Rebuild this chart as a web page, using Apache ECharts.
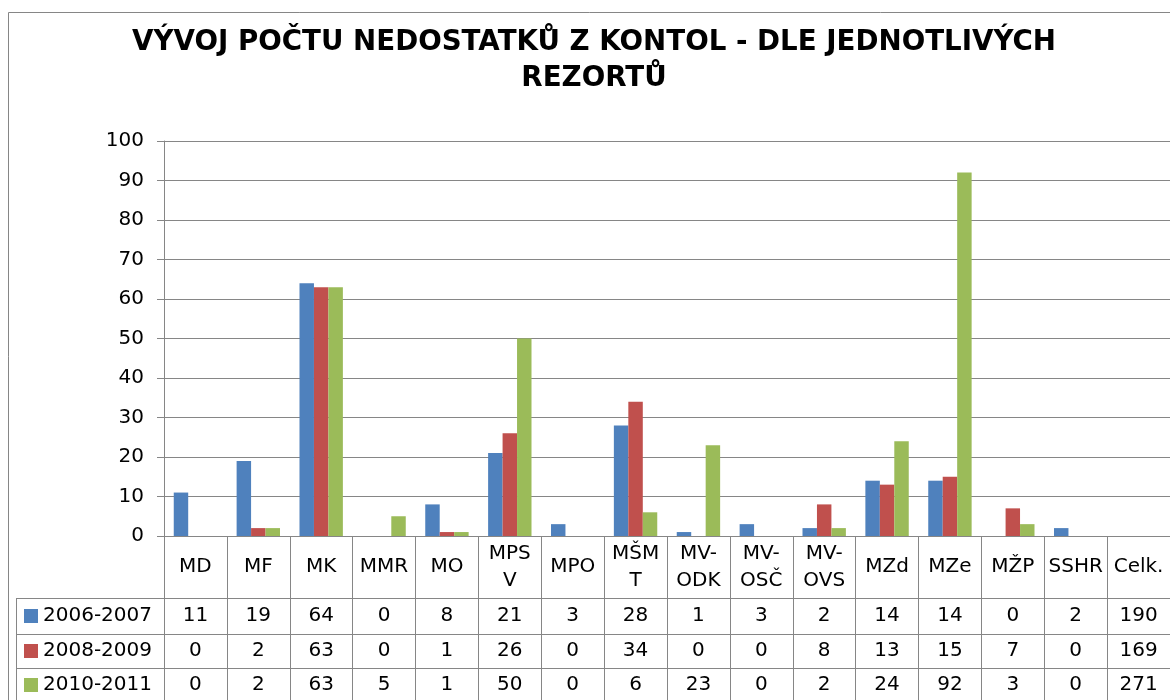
<!DOCTYPE html>
<html><head><meta charset="utf-8">
<script src="https://cdn.jsdelivr.net/npm/echarts@6/dist/echarts.min.js"></script>
<style>html,body{margin:0;padding:0;background:#fff}#c{width:1170px;height:700px}</style>
</head><body><div id="c"></div>
<script>
// ---- data ----
const categories = ['MD','MF','MK','MMR','MO','MPS\nV','MPO','MŠM\nT','MV-\nODK','MV-\nOSČ','MV-\nOVS','MZd','MZe','MŽP','SSHR','Celk.'];
const seriesNames = ['2006-2007','2008-2009','2010-2011'];
const s2006 = [11,19,64,0,8,21,3,28,1,3,2,14,14,0,2];
const s2008 = [0,2,63,0,1,26,0,34,0,0,8,13,15,7,0];
const s2010 = [0,2,63,5,1,50,0,6,23,0,2,24,92,3,0];
const totals = [190,169,271];
const titleText = 'VÝVOJ POČTU NEDOSTATKŮ Z KONTOL - DLE JEDNOTLIVÝCH\nREZORTŮ';
const yMin = 0, yMax = 100, yStep = 10;

// ---- style ----
const FONT = 'DejaVu Sans';
const LINE = '#868686';
const COLORS = ['#4F81BD','#C0504D','#9BBB59'];
const seriesData = [s2006, s2008, s2010];
const rows = seriesData.map((s,i)=>s.concat([totals[i]]));

function tableAxis(offset, tickLen, margin, labels){
  return {
    type:'category', gridIndex:0, position:'bottom', offset:offset, data:categories, boundaryGap:true,
    axisLine:{show:true, lineStyle:{color:LINE, width:1}},
    axisTick:{show:true, interval:0, length:tickLen, lineStyle:{color:LINE, width:1}},
    axisLabel:{interval:0, margin:margin, verticalAlign:'middle', fontSize:20, color:'#000', fontFamily:FONT,
      formatter:function(v,i){return String(labels[i]);}},
    splitLine:{show:false}
  };
}

const chart = echarts.init(document.getElementById('c'), null, {renderer:'canvas'});
const option = {
  animation:false,
  backgroundColor:'#fff',
  title:{text:titleText, left:594, top:25, textAlign:'center', padding:0,
    textStyle:{fontFamily:FONT, fontSize:27.7, fontWeight:'bold', color:'#000', lineHeight:36}},
  grid:{left:164, right:0, top:141, bottom:164, containLabel:false},
  legend: seriesNames.map((n,i)=>({
    data:[n], orient:'horizontal', left:24, top:[606,641,675][i], padding:0,
    icon:'rect', itemWidth:14, itemHeight:14, selectedMode:false,
    textStyle:{fontFamily:FONT, fontSize:20, color:'#000', lineHeight:20}
  })),
  xAxis:[
    {
      type:'category', gridIndex:0, position:'bottom', data:categories, boundaryGap:true,
      axisLine:{show:true, lineStyle:{color:LINE, width:1}},
      axisTick:{show:true, interval:0, length:62, lineStyle:{color:LINE, width:1}},
      axisLabel:{interval:0, margin:31, verticalAlign:'middle', fontSize:20, lineHeight:27, color:'#000', fontFamily:FONT},
      splitLine:{show:false}
    },
    tableAxis(62, 36, 18, rows[0]),
    tableAxis(98, 34, 17, rows[1]),
    tableAxis(132, 40, 17, rows[2])
  ],
  yAxis:{
    type:'value', min:yMin, max:yMax, interval:yStep,
    axisLine:{show:true, lineStyle:{color:LINE, width:1}},
    axisTick:{show:true, length:7, lineStyle:{color:LINE}},
    axisLabel:{margin:20, fontSize:20, color:'#000', fontFamily:FONT},
    splitLine:{show:true, lineStyle:{color:LINE, width:1}}
  },
  series: seriesNames.map((n,i)=>({
    name:n, type:'bar', xAxisIndex:0, data:seriesData[i].concat([null]),
    barGap:'0%', barCategoryGap:'31%', itemStyle:{color:COLORS[i]}
  })),
  graphic:[
    {type:'rect', silent:true, shape:{x:8.5, y:12.5, width:1300, height:800}, style:{fill:'none', stroke:LINE, lineWidth:1}},
    {type:'line', silent:true, shape:{x1:16.5, y1:598, x2:16.5, y2:710}, style:{stroke:LINE, lineWidth:1}},
    {type:'line', silent:true, shape:{x1:16, y1:598.5, x2:164, y2:598.5}, style:{stroke:LINE, lineWidth:1}},
    {type:'line', silent:true, shape:{x1:16, y1:634.5, x2:164, y2:634.5}, style:{stroke:LINE, lineWidth:1}},
    {type:'line', silent:true, shape:{x1:16, y1:668.5, x2:164, y2:668.5}, style:{stroke:LINE, lineWidth:1}}
  ]
};
chart.setOption(option);
</script></body></html>
